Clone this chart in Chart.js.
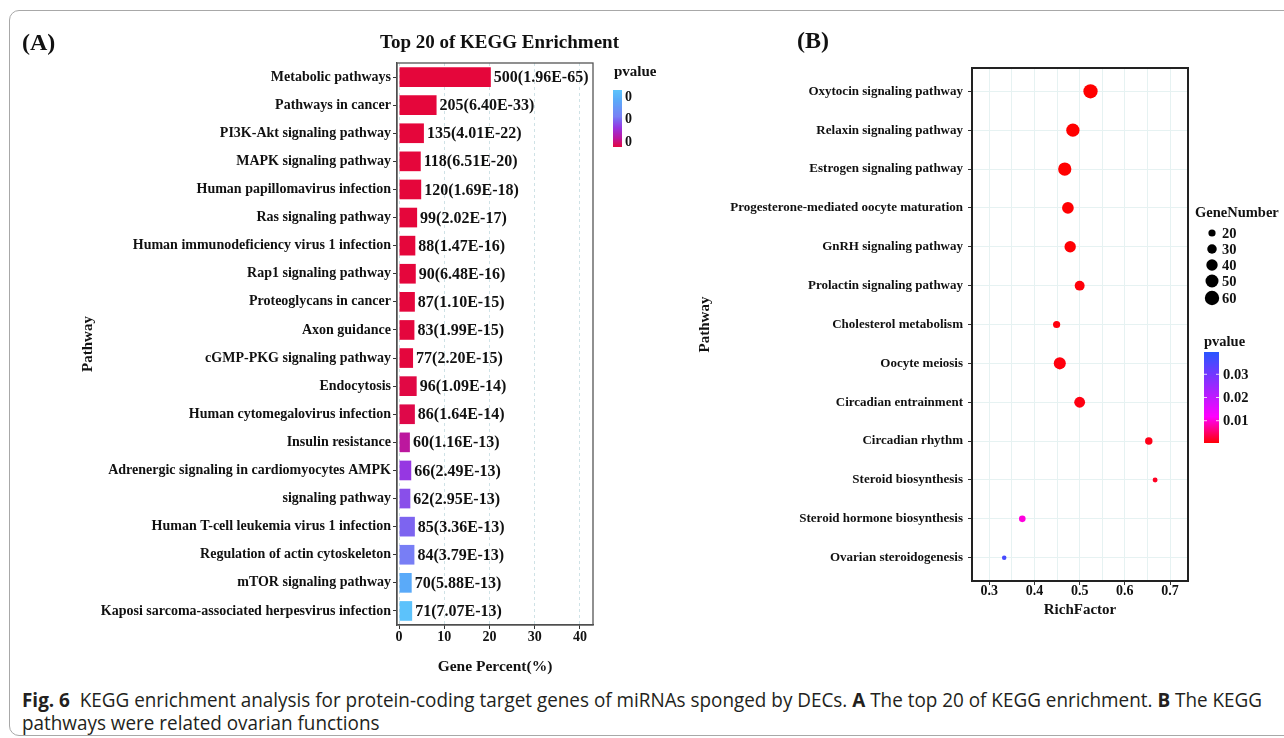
<!DOCTYPE html>
<html>
<head>
<meta charset="utf-8">
<script src="https://cdn.jsdelivr.net/npm/chart.js@4.4.1/dist/chart.umd.min.js"></script>
<style>
  html, body { margin: 0; padding: 0; background: #fff; width: 1284px; height: 738px; overflow: hidden; }
  .frame { position: absolute; left: 9px; top: 10px; width: 1320px; height: 726px; border: 1px solid #a8a8a8; border-radius: 10px; box-sizing: border-box; }
  .lbl { position: absolute; font-family: "Liberation Serif", "Times New Roman", serif; font-weight: bold; color: #111; white-space: nowrap; }
  #chartA { position: absolute; left: 0; top: 0; }
  #chartB { position: absolute; left: 690px; top: 0; }
  .cap { position: absolute; left: 22px; font-family: "Open Sans", sans-serif; font-size: 20px; color: #231f20; white-space: nowrap; transform-origin: 0 50%; line-height: 22px; }
</style>
</head>
<body>
<div class="frame"></div>
<canvas id="chartA" width="700" height="680"></canvas>
<canvas id="chartB" width="594" height="640"></canvas>
<div class="lbl" style="left:22px;top:28px;font-size:24px;line-height:28px">(A)</div>
<div class="lbl" style="left:797px;top:26px;font-size:24px;line-height:28px">(B)</div>
<div class="lbl" style="left:0;width:999px;text-align:center;top:31px;font-size:19px;line-height:22px">Top 20 of KEGG Enrichment</div>
<div class="cap" id="cap1" style="top:689px"><b>Fig. 6</b>&nbsp; KEGG enrichment analysis for protein-coding target genes of miRNAs sponged by DECs. <b>A</b> The top 20 of KEGG enrichment. <b>B</b> The KEGG</div>
<div class="cap" id="cap2" style="top:712px">pathways were related ovarian functions</div>
<script>
// (A) top 20 KEGG pathways
const pathwaysA = [
  'Metabolic pathways', 'Pathways in cancer', 'PI3K-Akt signaling pathway', 'MAPK signaling pathway',
  'Human papillomavirus infection', 'Ras signaling pathway', 'Human immunodeficiency virus 1 infection',
  'Rap1 signaling pathway', 'Proteoglycans in cancer', 'Axon guidance', 'cGMP-PKG signaling pathway',
  'Endocytosis', 'Human cytomegalovirus infection', 'Insulin resistance',
  'Adrenergic signaling in cardiomyocytes AMPK', 'signaling pathway',
  'Human T-cell leukemia virus 1 infection', 'Regulation of actin cytoskeleton',
  'mTOR signaling pathway', 'Kaposi sarcoma-associated herpesvirus infection'
];
const genePercent = [20.3, 8.3, 5.5, 4.8, 4.9, 4.0, 3.6, 3.7, 3.5, 3.4, 3.1, 3.9, 3.5, 2.4, 2.7, 2.5, 3.5, 3.4, 2.8, 2.9];
const geneCount = [500, 205, 135, 118, 120, 99, 88, 90, 87, 83, 77, 96, 86, 60, 66, 62, 85, 84, 70, 71];
const pvalueA = [1.96e-65, 6.40e-33, 4.01e-22, 6.51e-20, 1.69e-18, 2.02e-17, 1.47e-16, 6.48e-16, 1.10e-15, 1.99e-15,
  2.20e-15, 1.09e-14, 1.64e-14, 1.16e-13, 2.49e-13, 2.95e-13, 3.36e-13, 3.79e-13, 5.88e-13, 7.07e-13];
const legendLabelsA = ['0', '0', '0'];

// (B) ovarian related pathways
const pathwaysB = [
  'Oxytocin signaling pathway', 'Relaxin signaling pathway', 'Estrogen signaling pathway',
  'Progesterone-mediated oocyte maturation', 'GnRH signaling pathway', 'Prolactin signaling pathway',
  'Cholesterol metabolism', 'Oocyte meiosis', 'Circadian entrainment', 'Circadian rhythm',
  'Steroid biosynthesis', 'Steroid hormone biosynthesis', 'Ovarian steroidogenesis'
];
const richFactor = [0.524, 0.485, 0.467, 0.474, 0.479, 0.500, 0.449, 0.456, 0.500, 0.653, 0.667, 0.373, 0.333];
const geneNumber = [59, 52, 52, 42, 40, 32, 20, 44, 37, 21, 13, 18, 12];
const pvalueB = [0.0001, 0.0002, 0.0003, 0.0005, 0.0006, 0.0008, 0.001, 0.001, 0.0012, 0.0015, 0.002, 0.0105, 0.036];
const sizeBreaks = [20, 30, 40, 50, 60];
const pBreaksB = [0.03, 0.02, 0.01];

const serif = '"Liberation Serif", "Times New Roman", serif';
const ink = '#111';

function hexToRgb(h) {
  return [parseInt(h.slice(1, 3), 16), parseInt(h.slice(3, 5), 16), parseInt(h.slice(5, 7), 16)];
}
function gradient(stops, t) {
  t = Math.max(0, Math.min(1, t));
  for (let i = 1; i < stops.length; i++) {
    if (t <= stops[i][0]) {
      const a = stops[i - 1], b = stops[i];
      const f = (t - a[0]) / (b[0] - a[0]);
      const c1 = hexToRgb(a[1]), c2 = hexToRgb(b[1]);
      return 'rgb(' + c1.map((v, k) => Math.round(v + (c2[k] - v) * f)).join(',') + ')';
    }
  }
  return stops[stops.length - 1][1];
}
const stopsA = [[0, '#e5063b'], [0.16, '#bd169c'], [0.35, '#9636e2'], [0.48, '#7c66f1'], [0.54, '#7880f5'], [0.83, '#5aaaf9'], [1, '#5cc2fb']];
const pMaxA = Math.max(...pvalueA);
function colorA(p) { return gradient(stopsA, p / pMaxA); }

const pLowB = 0.0004, pHighB = 0.0396;
const stopsB = [[0, '#ff0000'], [0.296, '#ff00ff'], [1, '#2a55ff']];
function colorB(p) { return gradient(stopsB, (p - pLowB) / (pHighB - pLowB)); }
function radiusB(n) { return Math.sqrt(Math.max(1, 0.972 * n - 6.5)); }

function isMajor(v) { return Math.abs(v * 10 - Math.round(v * 10)) < 1e-6; }

const pluginA = {
  id: 'extrasA',
  afterDatasetsDraw(chart) {
    const ctx = chart.ctx;
    const meta = chart.getDatasetMeta(0);
    ctx.save();
    ctx.font = 'bold 16px ' + serif;
    ctx.fillStyle = ink;
    ctx.textBaseline = 'middle';
    ctx.textAlign = 'left';
    meta.data.forEach((bar, i) => {
      const txt = geneCount[i] + '(' + pvalueA[i].toExponential(2).toUpperCase() + ')';
      ctx.fillText(txt, bar.x + 3, bar.y + 1);
    });
    ctx.restore();
  },
  afterDraw(chart) {
    const ctx = chart.ctx;
    const a = chart.chartArea;
    ctx.save();
    ctx.strokeStyle = '#555';
    ctx.lineWidth = 1.3;
    ctx.strokeRect(a.left, a.top, a.right - a.left, a.bottom - a.top);
    // pvalue legend
    ctx.fillStyle = ink;
    ctx.font = 'bold 15px ' + serif;
    ctx.textBaseline = 'middle';
    ctx.fillText('pvalue', 614, 72);
    const top = 90, bottom = 147;
    for (let y = top; y < bottom; y++) {
      ctx.fillStyle = gradient(stopsA, (bottom - y) / (bottom - top));
      ctx.fillRect(613, y, 9, 1);
    }
    ctx.fillStyle = ink;
    ctx.font = 'bold 14px ' + serif;
    [97, 119, 142].forEach((y, i) => ctx.fillText(legendLabelsA[i], 625, y));
    ctx.restore();
  }
};

new Chart(document.getElementById('chartA'), {
  type: 'bar',
  data: {
    labels: pathwaysA,
    datasets: [{
      data: genePercent,
      backgroundColor: pvalueA.map(colorA),
      borderWidth: 0,
      barPercentage: 0.7,
      categoryPercentage: 1
    }]
  },
  options: {
    indexAxis: 'y',
    responsive: false,
    animation: false,
    layout: { padding: { left: 0, top: 63, right: 107, bottom: 0 } },
    plugins: { legend: { display: false }, tooltip: { enabled: false } },
    scales: {
      x: {
        min: -0.45,
        max: 42.9,
        afterFit: s => { s.height = 55; },
        ticks: { stepSize: 10, includeBounds: false, color: ink, font: { family: serif, size: 14, weight: 'bold' }, padding: 0 },
        grid: { color: '#cfe2e6', lineWidth: 1, tickColor: '#333', tickLength: 4, tickBorderDash: [] },
        border: { display: true, color: '#444', width: 1.3, dash: [3, 3] },
        title: { display: true, text: 'Gene Percent(%)', color: ink, font: { family: serif, size: 15.5, weight: 'bold' }, padding: { top: 0, bottom: 4 } }
      },
      y: {
        afterFit: s => { s.width = 397; },
        ticks: { autoSkip: false, color: ink, font: { family: serif, size: 14, weight: 'bold' }, padding: 2 },
        grid: { offset: false, drawOnChartArea: false, tickLength: 4, tickColor: '#333' },
        border: { display: true, color: '#444', width: 1.3 },
        title: { display: true, text: 'Pathway', color: ink, font: { family: serif, size: 15, weight: 'bold' }, padding: { top: 79, bottom: 0 } }
      }
    }
  },
  plugins: [pluginA]
});

const pluginB = {
  id: 'extrasB',
  afterDraw(chart) {
    const ctx = chart.ctx;
    const a = chart.chartArea;
    ctx.save();
    ctx.strokeStyle = '#222';
    ctx.lineWidth = 2;
    ctx.strokeRect(a.left, a.top, a.right - a.left, a.bottom - a.top);
    ctx.fillStyle = ink;
    ctx.textBaseline = 'middle';
    ctx.font = 'bold 14.5px ' + serif;
    ctx.fillText('GeneNumber', 505, 213);
    const ys = [233, 249, 265, 281, 298];
    sizeBreaks.forEach((n, i) => {
      ctx.fillStyle = '#000';
      ctx.beginPath();
      ctx.arc(522, ys[i], radiusB(n), 0, Math.PI * 2);
      ctx.fill();
      ctx.fillStyle = ink;
      ctx.fillText(String(n), 532, ys[i] + 1);
    });
    ctx.fillText('pvalue', 514, 342);
    const top = 352, bottom = 443;
    for (let y = top; y < bottom; y++) {
      const p = pLowB + (bottom - y) / (bottom - top) * (pHighB - pLowB);
      ctx.fillStyle = colorB(p);
      ctx.fillRect(514, y, 15, 1);
    }
    pBreaksB.forEach(p => {
      const y = bottom - (p - pLowB) / (pHighB - pLowB) * (bottom - top);
      ctx.fillStyle = 'rgba(255,255,255,0.8)';
      ctx.fillRect(514, y - 0.5, 3, 1);
      ctx.fillRect(526, y - 0.5, 3, 1);
      ctx.fillStyle = ink;
      ctx.fillText(p.toFixed(2), 533, y + 1);
    });
    ctx.restore();
  }
};

new Chart(document.getElementById('chartB'), {
  type: 'scatter',
  data: {
    datasets: [{
      data: richFactor.map((r, i) => ({ x: r, y: i })),
      pointRadius: geneNumber.map(radiusB),
      pointHoverRadius: geneNumber.map(radiusB),
      pointBackgroundColor: pvalueB.map(colorB),
      pointBorderWidth: 0
    }]
  },
  options: {
    responsive: false,
    animation: false,
    layout: { padding: { left: 0, top: 68, right: 96, bottom: 0 } },
    plugins: { legend: { display: false }, tooltip: { enabled: false } },
    scales: {
      x: {
        type: 'linear',
        min: 0.2617,
        max: 0.7398,
        afterFit: s => { s.height = 59; },
        ticks: {
          stepSize: 0.05, includeBounds: false, autoSkip: false, maxRotation: 0,
          callback: v => isMajor(v) ? v.toFixed(1) : '',
          color: ink, font: { family: serif, size: 14, weight: 'bold' }, padding: -2
        },
        grid: { color: '#e6f2f2', tickLength: 4, tickColor: c => isMajor(c.tick.value) ? '#333' : 'rgba(0,0,0,0)' },
        border: { color: '#222', width: 2 },
        title: { display: true, text: 'RichFactor', color: ink, font: { family: serif, size: 15, weight: 'bold' }, padding: { top: 0, bottom: 21 } }
      },
      y: {
        type: 'linear',
        reverse: true,
        min: -0.6,
        max: 12.6,
        afterFit: s => { s.width = 282; },
        afterBuildTicks: s => { s.ticks = pathwaysB.map((p, i) => ({ value: i })); },
        ticks: { autoSkip: false, callback: v => pathwaysB[v], color: ink, font: { family: serif, size: 13, weight: 'bold' }, padding: 5 },
        grid: { color: '#e6f2f2', tickLength: 4, tickColor: '#333' },
        border: { color: '#222', width: 2 },
        title: { display: true, text: 'Pathway', color: ink, font: { family: serif, size: 15, weight: 'bold' }, padding: { top: 6, bottom: 0 } }
      }
    }
  },
  plugins: [pluginB]
});

// squeeze the caption to the condensed width of the original
const cap1 = document.getElementById('cap1');
const cap2 = document.getElementById('cap2');
const k = 1240 / cap1.getBoundingClientRect().width;
cap1.style.transform = 'scaleX(' + k + ')';
cap2.style.transform = 'scaleX(' + k + ')';
</script>
</body>
</html>
